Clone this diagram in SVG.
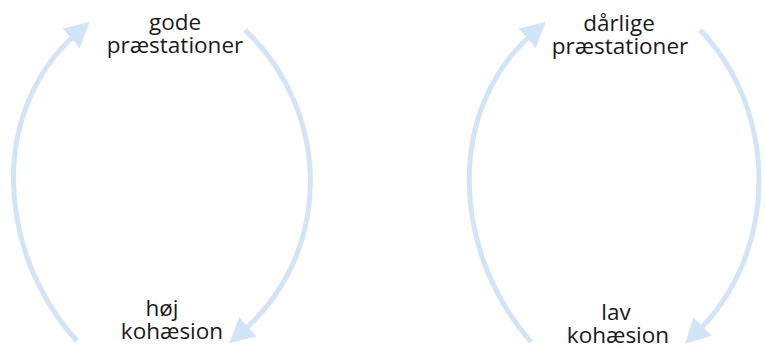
<svg xmlns="http://www.w3.org/2000/svg" width="765" height="351" viewBox="0 0 765 351">
  <style>
    .lbl { font-family: "Open Sans", "Noto Sans", "DejaVu Sans", sans-serif; font-size: 22.5px; fill: #1a1a1a; text-anchor: middle; }
    .arc { fill: none; stroke: #d2e4f8; stroke-width: 5; marker-end: url(#head); }
  </style>
  <defs>
    <marker id="head" markerUnits="userSpaceOnUse" markerWidth="26" markerHeight="26" refX="6" refY="12" orient="auto" viewBox="0 0 24 24">
      <path d="M0,0 L23,12 L0,24 z" fill="#d2e4f8"/>
    </marker>
  </defs>
  <rect width="765" height="351" fill="#ffffff"/>
  <g id="connectors">
    <path class="arc" d="M77,341 C -5,250 -10,110 76,34"/>
    <path class="arc" d="M245,30 C 330,110 335,250 243,331"/>
    <path class="arc" d="M531,342 C 451,250 446,110 532,34"/>
    <path class="arc" d="M700,30 C 778,110 780,250 698,331"/>
  </g>
  <g id="gode-praestationer">
    <text class="lbl" x="175" y="30">gode<tspan x="175" dy="23">præstationer</tspan></text>
  </g>
  <g id="hoej-kohaesion">
    <text class="lbl" x="162" y="316">høj<tspan x="172" dy="23">kohæsion</tspan></text>
  </g>
  <g id="daarlige-praestationer">
    <text class="lbl" x="619" y="31">dårlige<tspan x="620" dy="23">præstationer</tspan></text>
  </g>
  <g id="lav-kohaesion">
    <text class="lbl" x="616" y="320">lav<tspan x="618" dy="23">kohæsion</tspan></text>
  </g>
</svg>
